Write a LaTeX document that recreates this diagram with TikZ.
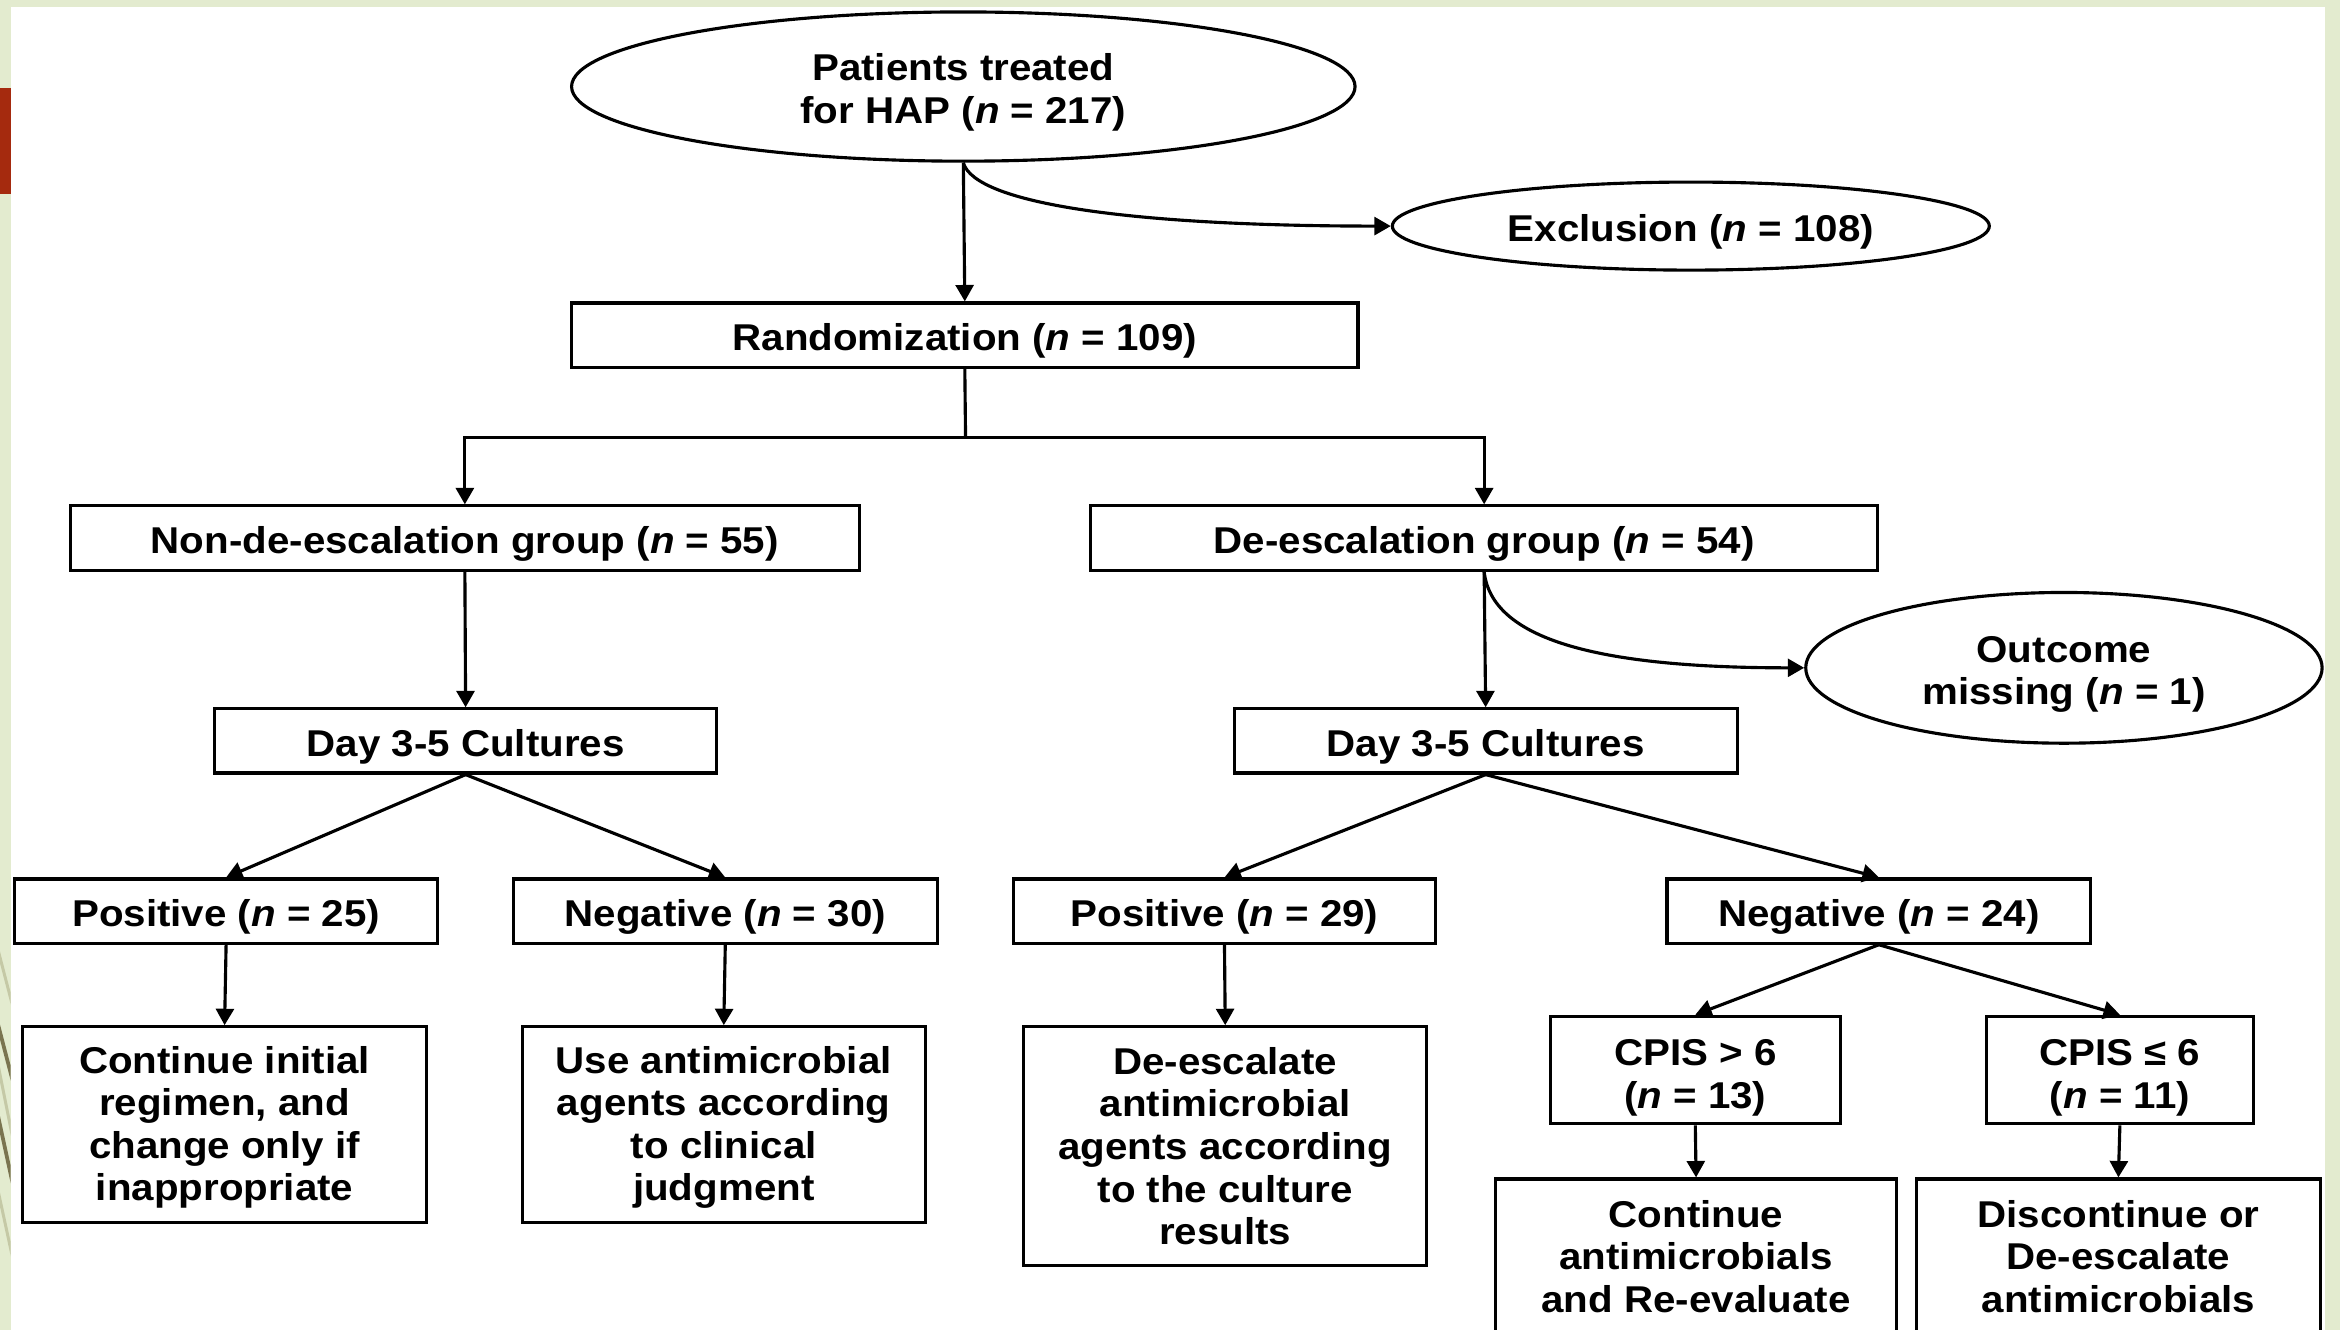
\documentclass[tikz,border=0pt]{standalone}
\usepackage{fontspec}
\setmainfont{Liberation Sans}[FakeStretch=1.08]
\usetikzlibrary{shapes.geometric,arrows.meta}
\definecolor{bggreen}{HTML}{E3EBCF}
\definecolor{barred}{HTML}{A52A0E}
\definecolor{oliveline}{HTML}{7A7450}
\definecolor{olivelight}{HTML}{C5C9A6}
\newcommand\txtdown[1]{\rule{0pt}{#1pt}}
\begin{document}
\begin{tikzpicture}[x=1pt,y=-1pt,
  flowbox/.style={draw, line width=2.1pt, inner sep=0pt, align=center,
    font=\fontsize{25}{28.5}\selectfont\bfseries},
  oval/.style={flowbox, ellipse},
  arr/.style={line width=2.1pt, -{Triangle[length=11pt,width=12pt]}},
  ln/.style={line width=2.1pt}]
\useasboundingbox (0,0) rectangle (1568,891);
\clip (0,0) rectangle (1568,891);
% background
\fill[bggreen] (0,0) rectangle (1568,891);
\fill[white] (7.2,4.9) rectangle (1558,891);
\fill[barred] (0,59) rectangle (7.2,130);
\begin{scope}
  \clip (0,600) rectangle (7.2,891);
  \draw[olivelight, line width=2pt] (-3,630) -- (10,680);
  \draw[oliveline, line width=2.5pt] (-3,680) -- (10,730);
  \draw[olivelight, line width=2pt] (-3,705) -- (10,770);
  \draw[oliveline, line width=2.5pt] (-3,740) -- (10,800);
  \draw[olivelight, line width=2pt] (-3,790) -- (10,850);
\end{scope}
% nodes
\node[oval, minimum width=525pt, minimum height=100pt] (pat) at (645.5,58) {\txtdown{26}Patients treated\\for HAP (\textit{n} = 217)};
\node[oval, minimum width=400pt, minimum height=59pt] (exc) at (1133,151.5) {\txtdown{26}Exclusion (\textit{n} = 108)};
\node[flowbox, minimum width=527pt, minimum height=43pt] (rand) at (646.5,224.5) {\txtdown{26}Randomization (\textit{n} = 109)};
\node[flowbox, minimum width=529pt, minimum height=43pt] (nonde) at (311.5,360.5) {\txtdown{26}Non-de-escalation group (\textit{n} = 55)};
\node[flowbox, minimum width=527pt, minimum height=43pt] (de) at (994.5,360.5) {\txtdown{26}De-escalation group (\textit{n} = 54)};
\node[oval, minimum width=346pt, minimum height=101pt] (outm) at (1383,447.5) {\txtdown{26}Outcome\\missing (\textit{n} = 1)};
\node[flowbox, minimum width=336pt, minimum height=43pt] (dayL) at (312,496.5) {\txtdown{26}Day 3-5 Cultures};
\node[flowbox, minimum width=337pt, minimum height=43pt] (dayR) at (995.5,496.5) {\txtdown{26}Day 3-5 Cultures};
\node[flowbox, minimum width=283pt, minimum height=43pt] (posA) at (151.5,610.5) {\txtdown{26}Positive (\textit{n} = 25)};
\node[flowbox, minimum width=284pt, minimum height=43pt] (negA) at (486,610.5) {\txtdown{26}Negative (\textit{n} = 30)};
\node[flowbox, minimum width=283pt, minimum height=43pt] (posB) at (820.5,610.5) {\txtdown{26}Positive (\textit{n} = 29)};
\node[flowbox, minimum width=284pt, minimum height=43pt] (negB) at (1259,610.5) {\txtdown{26}Negative (\textit{n} = 24)};
\node[flowbox, minimum width=271pt, minimum height=131pt] (contA) at (150.5,753.5) {\txtdown{22}Continue initial\\regimen, and\\change only if\\inappropriate};
\node[flowbox, minimum width=270pt, minimum height=131pt] (useA) at (485,753.5) {\txtdown{22}Use antimicrobial\\agents according\\to clinical\\judgment};
\node[flowbox, minimum width=270pt, minimum height=160pt] (descB) at (821,768) {De-escalate\\antimicrobial\\agents according\\to the culture\\results};
\node[flowbox, minimum width=194pt, minimum height=72pt] (cpisA) at (1136,717) {\txtdown{28}CPIS > 6\\(\textit{n} = 13)};
\node[flowbox, minimum width=179pt, minimum height=72pt] (cpisB) at (1420.5,717) {\txtdown{28}CPIS ≤ 6\\(\textit{n} = 11)};
\node[flowbox, minimum width=269pt, minimum height=104pt] (contB) at (1136.5,842) {Continue\\antimicrobials\\and Re-evaluate};
\node[flowbox, minimum width=271pt, minimum height=104pt] (discB) at (1419.5,842) {Discontinue or\\De-escalate\\antimicrobials};
% connectors
\draw[arr] (pat.south) -- (rand.north);
\draw[arr] (pat.south) .. controls +(8,28) and +(-170,0) .. (exc.west);
\coordinate (split) at (647,293);
\draw[ln] (rand.south) -- (split);
\draw[arr] (split) -| (nonde.north);
\draw[arr] (split) -| (de.north);
\draw[arr] (nonde.south) -- (dayL.north);
\draw[arr] (de.south) -- (dayR.north);
\draw[arr] (de.south) .. controls +(5,45) and +(-140,0) .. (outm.west);
\draw[arr] (dayL.south) -- (posA.north);
\draw[arr] (dayL.south) -- (negA.north);
\draw[arr] (dayR.south) -- (posB.north);
\draw[arr] (dayR.south) -- (negB.north);
\draw[arr] (posA.south) -- (contA.north);
\draw[arr] (negA.south) -- (useA.north);
\draw[arr] (posB.south) -- (descB.north);
\draw[arr] (negB.south) -- (cpisA.north);
\draw[arr] (negB.south) -- (cpisB.north);
\draw[arr] (cpisA.south) -- (contB.north);
\draw[arr] (cpisB.south) -- (discB.north);
\end{tikzpicture}
\end{document}
